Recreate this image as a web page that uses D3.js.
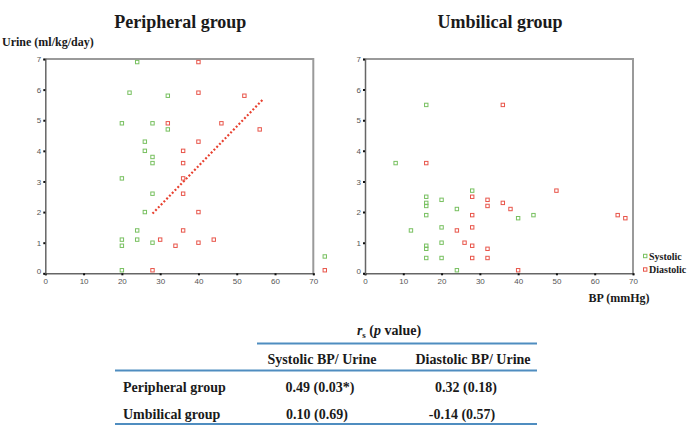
<!DOCTYPE html>
<html><head><meta charset="utf-8">
<script src="https://cdn.jsdelivr.net/npm/d3@7"></script>
<style>
body{margin:0;background:#fff;}
svg{display:block;}
.serif{font-family:"Liberation Serif","Times New Roman",serif;font-weight:bold;fill:#1a1a1a;}
.tick text{font-family:"Liberation Sans",Arial,sans-serif;font-size:8px;fill:#555;}
</style></head><body>
<svg id="c" width="689" height="432"></svg>
<script>
// ---- data ----
const xTicks = [0,10,20,30,40,50,60,70];
const yTicks = [0,1,2,3,4,5,6,7];
const seriesNames = ["Systolic","Diastolic"];
const periSysX = [24,22,32,20,28,32,26,26,28,28,20,28,26,24,20,24,20,28,20,73];
const periSysY = [6.9,5.9,5.8,4.9,4.9,4.7,4.3,4.0,3.8,3.6,3.1,2.6,2.0,1.4,1.1,1.1,0.9,1.0,0.1,0.55];
const periDiaX = [40,40,52,32,46,56,40,36,36,36,36,40,36,30,44,40,34,28,73];
const periDiaY = [6.9,5.9,5.8,4.9,4.9,4.7,4.3,4.0,3.6,3.1,2.6,2.0,1.4,1.1,1.1,1.0,0.9,0.1,0.1];
const periFitX = [28,57];
const periFitY = [1.95,5.7];
const umbSysX = [16,8,16,16,16,16,16,16,16,12,20,20,20,20,24,24,28,40,44];
const umbSysY = [5.5,3.6,2.5,2.3,2.2,1.9,0.9,0.8,0.5,1.4,2.4,1.5,1.0,0.5,2.1,0.1,2.7,1.8,1.9];
const umbDiaX = [36,16,28,32,32,36,38,28,24,28,26,28,32,28,32,40,50,66,68];
const umbDiaY = [5.5,3.6,2.5,2.4,2.2,2.3,2.1,1.9,1.4,1.5,1.0,0.9,0.8,0.5,0.5,0.1,2.7,1.9,1.8];
const tableCols = ["Systolic BP/ Urine","Diastolic BP/ Urine"];
const tableRows = ["Peripheral group","Umbilical group"];
const tableVals = [["0.49 (0.03*)","0.32 (0.18)"],["0.10 (0.69)","-0.14 (0.57)"]];

const colors = {Systolic:"#78c060", Diastolic:"#e8554a"};
const svg = d3.select("#c");

function panel(x0, title, sx, sy, dx, dy, fit){
  const x = d3.scaleLinear().domain([0,70]).range([x0, x0+268]);
  const y = d3.scaleLinear().domain([0,7]).range([273.3, 59]);
  const g = svg.append("g");
  // frame top/right
  g.append("path").attr("d",`M${x(0)},${y(7)}H${x(70)}V${y(0)}`)
    .attr("fill","none").attr("stroke","#9a9a9a").attr("stroke-width",2);
  const ax = g.append("g").attr("transform",`translate(0,${y(0)})`)
    .call(d3.axisBottom(x).tickValues(xTicks).tickSize(2).tickPadding(3).tickFormat(d3.format("d")));
  const ay = g.append("g").attr("transform",`translate(${x(0)},0)`)
    .call(d3.axisLeft(y).tickValues(yTicks).tickSize(2).tickPadding(2).tickFormat(d3.format("d")));
  [ax,ay].forEach(a=>{
    a.select(".domain").attr("stroke","#666").attr("stroke-width",1.5);
    a.selectAll(".tick line").attr("stroke","#111").attr("stroke-width",2);
  });
  ay.selectAll(".tick").filter(d=>d===0).select("text").attr("dy","0.05em");
  g.append("text").attr("class","serif").attr("x",x(35)+1).attr("y",28)
    .attr("text-anchor","middle").attr("font-size",18).text(title);
  if(fit){
    g.append("line").attr("x1",x(fit[0][0])).attr("y1",y(fit[1][0]))
      .attr("x2",x(fit[0][1])).attr("y2",y(fit[1][1]))
      .attr("stroke","#e8402f").attr("stroke-width",2.2).attr("stroke-dasharray","2,2");
  }
  const draw=(xs,ys,c)=>{
    g.selectAll(null).data(xs.map((v,i)=>[v,ys[i]])).enter().append("rect")
      .attr("x",d=>x(d[0])-1.7).attr("y",d=>y(d[1])-1.7)
      .attr("width",3.4).attr("height",3.4)
      .attr("fill","none").attr("stroke",c).attr("stroke-width",1);
  };
  draw(sx,sy,colors.Systolic);
  draw(dx,dy,colors.Diastolic);
  return {x,y};
}
panel(45.3,"Peripheral group",periSysX,periSysY,periDiaX,periDiaY,[periFitX,periFitY]);
panel(365,"Umbilical group",umbSysX,umbSysY,umbDiaX,umbDiaY,null);

svg.append("text").attr("class","serif").attr("x",2).attr("y",46).attr("font-size",12).text("Urine (ml/kg/day)");
svg.append("text").attr("class","serif").attr("x",619).attr("y",302).attr("text-anchor","middle").attr("font-size",12).text("BP (mmHg)");

// legend
const lg = svg.append("g");
seriesNames.forEach((n,i)=>{
  const yy = 256 + i*13.5;
  lg.append("rect").attr("x",643.5).attr("y",yy-1.7).attr("width",3.4).attr("height",3.4)
    .attr("fill","none").attr("stroke",colors[n]).attr("stroke-width",1);
  lg.append("text").attr("class","serif").attr("x",649).attr("y",yy+3.5).attr("font-size",10).text(n);
});

// table
const tg = svg.append("g");
const lineCol = "#4f8dc0";
const rs = tg.append("text").attr("class","serif").attr("x",389).attr("y",335).attr("text-anchor","middle").attr("font-size",14);
rs.append("tspan").attr("font-style","italic").text("r");
rs.append("tspan").attr("font-size",9).attr("dy",3).text("s");
rs.append("tspan").attr("dy",-3).text(" (");
rs.append("tspan").attr("font-style","italic").text("p");
rs.append("tspan").text(" value)");
tg.append("line").attr("x1",257).attr("x2",537).attr("y1",343.5).attr("y2",343.5).attr("stroke",lineCol).attr("stroke-width",2);
const colX = [322,473];
tableCols.forEach((c,i)=>tg.append("text").attr("class","serif").attr("x",colX[i]).attr("y",364).attr("text-anchor","middle").attr("font-size",14).text(c));
tg.append("line").attr("x1",115).attr("x2",537).attr("y1",370.5).attr("y2",370.5).attr("stroke",lineCol).attr("stroke-width",2);
const rowY = [392,419];
const valX = [[320,466],[317,462]];
tableRows.forEach((r,i)=>{
  tg.append("text").attr("class","serif").attr("x",123).attr("y",rowY[i]).attr("font-size",14).text(r);
  tableVals[i].forEach((v,j)=>tg.append("text").attr("class","serif").attr("x",valX[i][j]).attr("y",rowY[i]).attr("text-anchor","middle").attr("font-size",14).text(v));
});
tg.append("line").attr("x1",115).attr("x2",537).attr("y1",424).attr("y2",424).attr("stroke",lineCol).attr("stroke-width",2);
</script></body></html>
